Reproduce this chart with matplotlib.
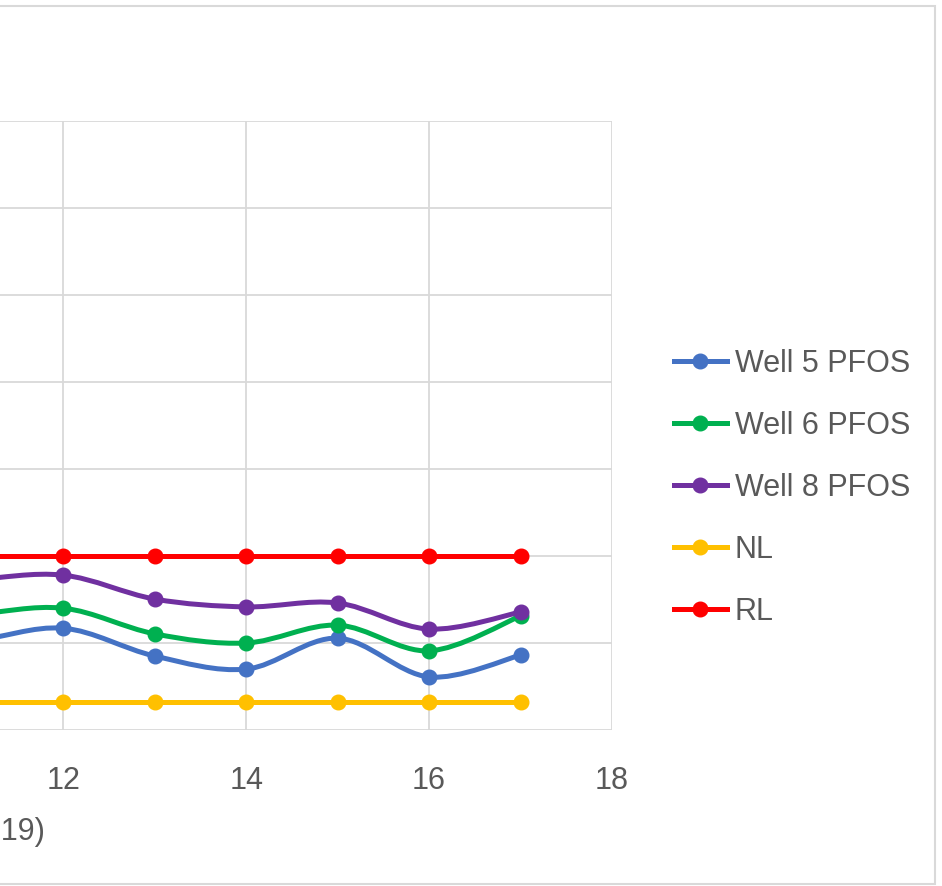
import numpy as np
import matplotlib.pyplot as plt
from matplotlib.path import Path
from matplotlib.patches import PathPatch, Rectangle
from matplotlib.lines import Line2D

plt.rcParams['font.family'] = ['Liberation Sans', 'DejaVu Sans']

# sampling events (only 12-17 are inside the visible crop)
x = [10, 11, 12, 13, 14, 15, 16, 17]
well5 = [20.0, 20.5, 23.4, 17.0, 14.0, 21.1, 12.2, 17.2]
well6 = [25.0, 26.5, 28.0, 22.1, 20.0, 24.1, 18.2, 26.2]
well8 = [33.0, 34.5, 35.6, 30.1, 28.3, 29.2, 23.2, 27.1]
nl = [6.5] * len(x)
rl = [40] * len(x)

series = [
    ('Well 5 PFOS', well5, '#4472C4', True),
    ('Well 6 PFOS', well6, '#00B050', True),
    ('Well 8 PFOS', well8, '#7030A0', True),
    ('NL', nl, '#FFC000', False),
    ('RL', rl, '#FF0000', False),
]
draw_order = [3, 4, 0, 1, 2]

txt = '#595959'
grid = '#D9D9D9'


def smooth_path(xs, ys):
    # excel-style smoothed line: cubic bezier segments through the points
    p = np.column_stack([xs, ys]).astype(float)
    verts = [p[0]]
    codes = [Path.MOVETO]
    for i in range(len(p) - 1):
        p0 = p[i - 1] if i > 0 else p[i]
        p3 = p[i + 2] if i + 2 < len(p) else p[i + 1]
        c1 = p[i] + (p[i + 1] - p0) / 6
        c2 = p[i + 1] - (p3 - p[i]) / 6
        verts += [c1, c2, p[i + 1]]
        codes += [Path.CURVE4] * 3
    return Path(verts, codes)


W, H = 942, 886
fig = plt.figure(figsize=(W / 100, H / 100), dpi=100)

# plot area runs off the left edge of the crop
left_px, right_px, top_px, bot_px = -1034, 612, 121, 730
ax = fig.add_axes([left_px / W, 1 - bot_px / H, (right_px - left_px) / W, (bot_px - top_px) / H])
ax.set_xlim(0, 18)
ax.set_ylim(0, 140)
xt = list(range(0, 19, 2))
ax.set_xticks(xt)
# only the ticks inside the crop carry a visible label
ax.set_xticklabels([str(t) if t >= 12 else '' for t in xt])
ax.set_yticks(range(0, 141, 20))
ax.set_yticklabels([])
ax.grid(True, color=grid, linewidth=1.3)
ax.set_axisbelow(True)
for s in ax.spines.values():
    s.set_visible(False)
ax.tick_params(length=0, pad=26, labelsize=22, colors=txt)

for i in draw_order:
    name, vals, col, smooth = series[i]
    if smooth:
        ax.add_patch(PathPatch(smooth_path(x, vals), fill=False, edgecolor=col,
                               linewidth=3.6, capstyle='round', zorder=3 + i))
    else:
        ax.plot(x, vals, color=col, linewidth=3.6, zorder=3 + i)
    ax.plot(x, vals, linestyle='none', marker='o', markersize=10.5,
            color=col, zorder=3.5 + i)

handles = [Line2D([], [], color=s[2], linewidth=3.6, marker='o', markersize=10.5)
           for s in series]

fig.legend(handles, [s[0] for s in series], loc='center left',
           bbox_to_anchor=(646 / W, 1 - 488 / H), frameon=False, fontsize=22,
           labelcolor=txt, handlelength=1.75, handletextpad=0.25, labelspacing=1.05,
           numpoints=1)

fig.text(45 / W, 1 - 832 / H, 'Sampling Month (2019)', ha='right', va='center',
         fontsize=22, color=txt)

# chart area border
fig.patches.append(Rectangle((-10 / W, 1 - 884 / H), 945 / W, 878 / H,
                             transform=fig.transFigure, fill=False,
                             edgecolor=grid, linewidth=1.5))

fig.savefig('out.png', dpi=100)
